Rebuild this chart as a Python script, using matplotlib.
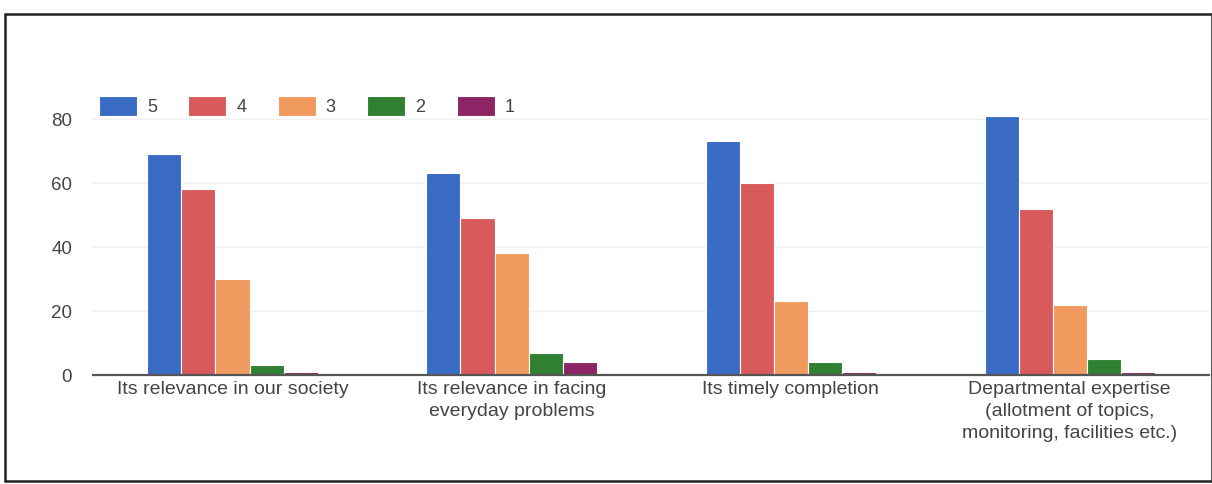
import numpy as np
import matplotlib.pyplot as plt
from matplotlib.patches import Rectangle

plt.rcParams['font.family'] = ['Liberation Sans', 'DejaVu Sans']

categories = ['Its relevance in our society',
              'Its relevance in facing\neveryday problems',
              'Its timely completion',
              'Departmental expertise\n(allotment of topics,\nmonitoring, facilities etc.)']
ratings = ['5', '4', '3', '2', '1']
score_5 = [69, 63, 73, 81]
score_4 = [58, 49, 60, 52]
score_3 = [30, 38, 23, 22]
score_2 = [3, 7, 4, 5]
score_1 = [1, 4, 1, 1]
series = [score_5, score_4, score_3, score_2, score_1]
colors = ['#3a6bc4', '#d85a5a', '#f19a60', '#2f8030', '#8c2465']

fig = plt.figure(figsize=(12.12, 4.84), dpi=100)
ax = fig.add_axes([0.0767, 0.2252, 0.921, 0.595])

x = np.arange(len(categories))
w = 0.122
for i, (vals, c) in enumerate(zip(series, colors)):
    ax.bar(x + (i - 2) * w, vals, width=w, color=c, edgecolor='white',
           linewidth=0.8, label=ratings[i], zorder=3)

ax.set_xlim(-0.5, 3.5)
ax.set_ylim(0, 90)
ax.set_yticks([0, 20, 40, 60, 80])
ax.set_xticks(x)
ax.set_xticklabels(categories, linespacing=1.4)
ax.tick_params(axis='both', length=0, labelsize=13.5, labelcolor='#444444')
ax.tick_params(axis='x', labelsize=14, pad=4)
ax.tick_params(axis='y', pad=15)
ax.grid(axis='y', color='#efefef', linewidth=1, zorder=0)
for s in ['top', 'right', 'left']:
    ax.spines[s].set_visible(False)
ax.spines['bottom'].set_color('#555555')
ax.spines['bottom'].set_linewidth(1.6)
ax.spines['bottom'].set_zorder(4)

ax.legend(loc='upper left', bbox_to_anchor=(90 / 1212, 1 - 87 / 484),
          bbox_transform=fig.transFigure, ncol=5, frameon=False,
          fontsize=13, handlelength=2.1, handleheight=1.3,
          columnspacing=1.75, handletextpad=0.55, borderpad=0,
          labelcolor='#444444')

# outer frame around the whole chart
fig.patches.append(Rectangle((0.004, 0.006), 0.996, 0.965, transform=fig.transFigure,
                             fill=False, edgecolor='#222222', linewidth=1.8))

fig.savefig('out.png', dpi=100)
